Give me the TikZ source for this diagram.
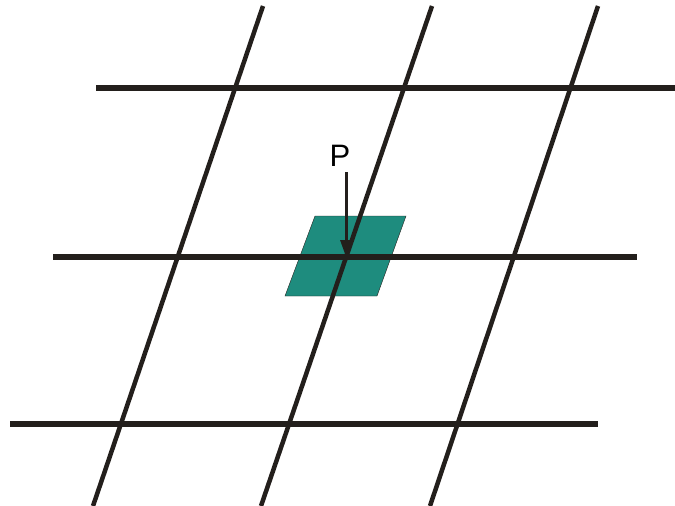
\documentclass[tikz,border=0pt]{standalone}
\usepackage{fontspec}
\setmainfont{Liberation Sans}
\usetikzlibrary{arrows.meta}
\definecolor{patch}{HTML}{1E8C7E}
\definecolor{ink}{HTML}{231F1C}
\tikzset{
  hline/.style={draw=ink, line width=5.5pt},
  sline/.style={draw=ink, line width=4.5pt},
  pointer/.style={draw=ink, line width=3pt, -{Triangle[length=17pt,width=11pt]}},
}
\begin{document}
\begin{tikzpicture}[x=1pt,y=-1pt]
\useasboundingbox (0,0) rectangle (675,506);
% parallelogram patch
\fill[patch, draw=ink, line width=0.4pt] (315,216) -- (406,216) -- (377,296) -- (285,296) -- cycle;
% horizontal lines
\coordinate (h1a) at (96,88);  \coordinate (h1b) at (675,88);
\coordinate (h2a) at (53,257); \coordinate (h2b) at (637,257);
\coordinate (h3a) at (10,424); \coordinate (h3b) at (598,424);
\draw[hline] (h1a) -- (h1b);
\draw[hline] (h2a) -- (h2b);
\draw[hline] (h3a) -- (h3b);
% slanted lines
\coordinate (s1a) at (263,6);  \coordinate (s1b) at (93,506);
\coordinate (s2a) at (432,6);  \coordinate (s2b) at (261,506);
\coordinate (s3a) at (598,6);  \coordinate (s3b) at (430,506);
\draw[sline] (s1a) -- (s1b);
\draw[sline] (s2a) -- (s2b);
\draw[sline] (s3a) -- (s3b);
% point P
\coordinate (pt) at (346,257);
\node[font=\fontsize{31}{31}\selectfont, inner sep=0pt] (P) at (340,156) {P};
\coordinate (pstart) at (346,172);
\draw[pointer] (pstart) -- (pt);
\end{tikzpicture}
\end{document}
